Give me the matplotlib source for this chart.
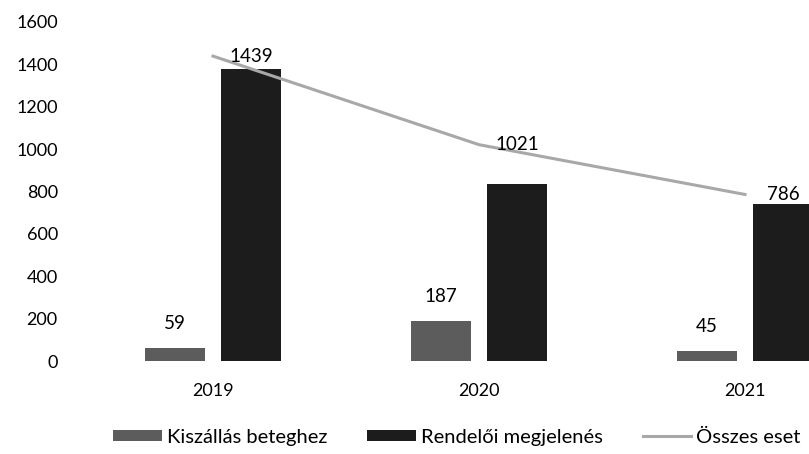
import matplotlib.pyplot as plt
import numpy as np

# adatok
years = ["2019", "2020", "2021"]
kiszallas = [59, 187, 45]
rendeloi = [1380, 834, 741]
osszes = [1439, 1021, 786]

plt.rcParams['font.family'] = ['Lato', 'DejaVu Sans']

fig = plt.figure(figsize=(8.09, 4.54), dpi=100)
# a tengely jobbra túllóg a képen (az eredeti is le van vágva)
ax = fig.add_axes([80 / 809, 1 - 361 / 454, 798 / 809, 339 / 454])

x = np.arange(len(years))
w = 0.225
off = 0.143

b1 = ax.bar(x - off, kiszallas, w, color="#5c5c5c", label="Kiszállás beteghez")
b2 = ax.bar(x + off, rendeloi, w, color="#1c1c1c", label="Rendelői megjelenés")
l1, = ax.plot(x, osszes, color="#a8a8a8", lw=2.2, label="Összes eset")

for i in range(len(years)):
    ax.annotate(str(kiszallas[i]), (x[i] - off, kiszallas[i]), xytext=(0, 18),
                textcoords="offset points", ha="center", va="center", fontsize=13.5)
    ax.text(x[i] + off, osszes[i], str(osszes[i]), ha="center", va="center", fontsize=13.5)

ax.set_xlim(-0.5, 2.5)
ax.set_ylim(0, 1600)
ax.set_yticks(range(0, 1601, 200))
ax.set_xticks(x)
ax.set_xticklabels(years)
ax.tick_params(axis="both", length=0, labelsize=13)
ax.tick_params(axis="x", pad=16)
ax.tick_params(axis="y", pad=16)
for s in ax.spines.values():
    s.set_visible(False)

fig.legend([b1, b2, l1], ["Kiszállás beteghez", "Rendelői megjelenés", "Összes eset"],
           loc="center", bbox_to_anchor=(457 / 809, 1 - 437 / 454), ncol=3,
           frameon=False, fontsize=14.5, handlelength=2.4, handleheight=0.45,
           handletextpad=0.25, columnspacing=2.0)

fig.savefig("out.png", dpi=100)
